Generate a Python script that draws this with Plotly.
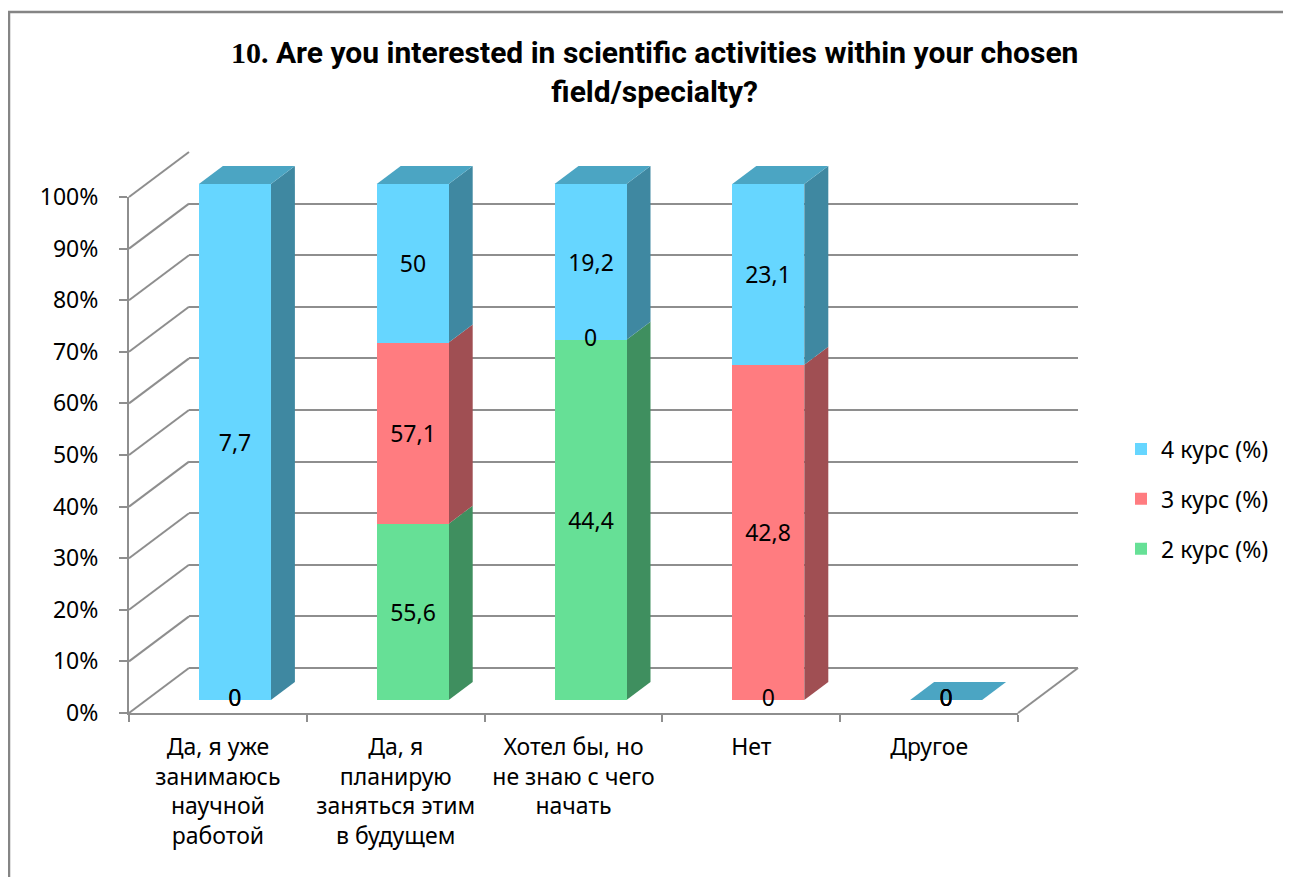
import plotly.graph_objects as go

# ---------------- data ----------------
categories = [
    "Да, я уже занимаюсь научной работой",
    "Да, я планирую заняться этим в будущем",
    "Хотел бы, но не знаю с чего начать",
    "Нет",
    "Другое",
]
category_labels = [
    "Да, я уже<br>занимаюсь<br>научной<br>работой",
    "Да, я<br>планирую<br>заняться этим<br>в будущем",
    "Хотел бы, но<br>не знаю с чего<br>начать",
    "Нет",
    "Другое",
]
series_names = ["2 курс (%)", "3 курс (%)", "4 курс (%)"]
kurs2 = [0, 55.6, 44.4, 0, 0]
kurs3 = [0, 57.1, 0, 42.8, 0]
kurs4 = [7.7, 50, 19.2, 23.1, 0]
y_ticks = list(range(0, 101, 10))
y_tick_labels = [f"{t}%" for t in y_ticks]
title_text = ('<b><span style="font-family:Liberation Serif">10.</span> Are you interested in scientific '
              'activities within your chosen<br>field/specialty?</b>')

# ---------------- styles ----------------
front_colors = ["#66E096", "#FF7C80", "#66D6FF"]
side_colors = ["#3F8F5F", "#A04F53", "#3F88A1"]
top_color = "#4BA5C3"
grid_color = "#8E8E8E"
FONT = "Noto Sans, Open Sans, sans-serif"
FS = 23

W, H = 1291, 877          # page size
OFF = 8                   # page body margin
FW, FH = W - OFF, H - OFF # figure size
FX0, FX1, FY0, FY100 = 129, 1018, 713, 197     # front plane (axis) in page px
DX_BACK, DY_BACK = 60, -45                      # back wall offset
DX_BAR, DY_BAR = 17, -13                        # bar plane offset
DEPTH_X, DEPTH_Y = 24, -18                      # bar depth
NCAT = len(categories)
CAT_W = (FX1 - FX0) / NCAT
PX_PER_PCT = (FY0 - FY100) / 100
BAR_W = 72 / CAT_W
X3_MAX = 4.8
Y3_MAX = 120


def pxx(x):
    return (x - OFF) / FW


def pxy(y):
    return 1 - (y - OFF) / FH


series = [kurs2, kurs3, kurs4]
totals = [sum(s[i] for s in series) for i in range(NCAT)]
pcts = [[(s[i] / totals[i] * 100 if totals[i] else 0) for i in range(NCAT)] for s in series]


def fmt(v):
    return f"{v:g}".replace(".", ",")


fig = go.Figure()

# back wall (xy) – invisible trace so subplot exists
fig.add_trace(go.Scatter(x=[0], y=[None], xaxis="x", yaxis="y", showlegend=False, hoverinfo="skip"))
# front axes (x2y2)
fig.add_trace(go.Scatter(x=categories, y=[None] * NCAT, xaxis="x2", yaxis="y2",
                         showlegend=False, hoverinfo="skip", mode="markers"))

# bars (x3y3)
for k, (name, vals) in enumerate(zip(series_names, series)):
    fig.add_trace(go.Bar(
        x=categories, y=vals, name=name, xaxis="x3", yaxis="y3",
        width=BAR_W, marker=dict(color=front_colors[k], line=dict(width=0)),
        text=[fmt(v) if v else "" for v in vals], textposition="inside",
        insidetextanchor="middle", constraintext="none",
        textfont=dict(family=FONT, size=FS, color="black"),
        legendgroup=name, legendrank=3 - k,
    ))

# zero labels
zx, zy = [], []
for k in range(3):
    for i in range(NCAT):
        if series[k][i] == 0:
            zx.append(categories[i])
            zy.append(sum(pcts[j][i] for j in range(k)))
fig.add_trace(go.Scatter(x=zx, y=zy, mode="text", text=["0"] * len(zx), xaxis="x3", yaxis="y3",
                         textfont=dict(family=FONT, size=FS, color="black"), cliponaxis=False,
                         showlegend=False, hoverinfo="skip"))

shapes = []
# 3D side and top faces
dxu = DEPTH_X / CAT_W
dyu = -DEPTH_Y / PX_PER_PCT
for i in range(NCAT):
    xr = i + BAR_W / 2
    xl = i - BAR_W / 2
    cum = 0
    for k in range(3):
        p = pcts[k][i]
        if p > 0:
            b, t = cum, cum + p
            shapes.append(dict(type="path", xref="x3", yref="y3", layer="between",
                               path=f"M {xr},{b} L {xr+dxu},{b+dyu} L {xr+dxu},{t+dyu} L {xr},{t} Z",
                               fillcolor=side_colors[k], line=dict(width=0)))
        cum += p
    shapes.append(dict(type="path", xref="x3", yref="y3", layer="between",
                       path=f"M {xl},{cum} L {xl+dxu},{cum+dyu} L {xr+dxu},{cum+dyu} L {xr},{cum} Z",
                       fillcolor=top_color, line=dict(width=0)))

# side wall diagonals
for t in y_ticks:
    shapes.append(dict(type="line", xref="paper", yref="paper", layer="below",
                       x0=pxx(FX0), y0=pxy(FY0 - t * PX_PER_PCT),
                       x1=pxx(FX0 + DX_BACK), y1=pxy(FY0 + DY_BACK - t * PX_PER_PCT),
                       line=dict(color=grid_color, width=2)))
# floor right diagonal
shapes.append(dict(type="line", xref="paper", yref="paper", layer="below",
                   x0=pxx(FX1), y0=pxy(FY0), x1=pxx(FX1 + DX_BACK), y1=pxy(FY0 + DY_BACK),
                   line=dict(color=grid_color, width=2)))
# chart border
shapes.append(dict(type="rect", xref="paper", yref="paper", layer="above",
                   x0=pxx(9), y0=pxy(12), x1=pxx(W + 10), y1=pxy(H + 10),
                   line=dict(color="#858585", width=2.5), fillcolor="rgba(0,0,0,0)"))

fig.update_layout(
    width=FW, height=FH,
    margin=dict(l=0, r=0, t=0, b=0, autoexpand=False),
    paper_bgcolor="white", plot_bgcolor="rgba(0,0,0,0)",
    font=dict(family=FONT, size=FS, color="black"),
    barmode="stack", barnorm="percent", bargap=0,
    shapes=shapes,
    annotations=[dict(text=title_text, x=pxx(654), xanchor="center", xref="paper",
                      y=pxy(72), yanchor="middle", yref="paper", showarrow=False,
                      font=dict(family="Roboto, Noto Sans", size=30, color="black"))],
    legend=dict(x=pxx(1121), xanchor="left", y=pxy(499), yanchor="middle",
                traceorder="grouped", tracegroupgap=17,
                font=dict(family=FONT, size=FS), bgcolor="rgba(0,0,0,0)"),
    # back wall
    xaxis=dict(domain=[pxx(FX0 + DX_BACK), pxx(FX1 + DX_BACK)], range=[0, 1], anchor="y",
               showgrid=False, zeroline=False, showticklabels=False, ticks="", showline=False),
    yaxis=dict(domain=[pxy(FY0 + DY_BACK), pxy(FY100 + DY_BACK)], range=[0, 100], anchor="x",
               tickvals=y_ticks, showgrid=True, gridcolor=grid_color, gridwidth=2,
               zeroline=True, zerolinecolor=grid_color, zerolinewidth=2,
               showticklabels=False, ticks="", showline=False),
    # front axes
    xaxis2=dict(domain=[pxx(FX0), pxx(FX1)], anchor="y2", type="category",
                categoryorder="array", categoryarray=categories, range=[-0.5, NCAT - 0.5],
                tickvals=categories, ticktext=category_labels, tickson="boundaries",
                ticks="outside", ticklen=7, tickwidth=2, tickcolor=grid_color,
                showline=True, linecolor=grid_color, linewidth=2, showgrid=False, zeroline=False,
                ticklabelstandoff=12, tickfont=dict(family=FONT, size=FS)),
    yaxis2=dict(domain=[pxy(FY0), pxy(FY100)], anchor="x2", range=[0, 100],
                tickvals=y_ticks, ticktext=y_tick_labels,
                ticks="outside", ticklen=8, tickwidth=2, tickcolor=grid_color,
                showline=True, linecolor=grid_color, linewidth=2, showgrid=False, zeroline=False,
                ticklabelstandoff=16, tickfont=dict(family=FONT, size=FS)),
    # bars
    xaxis3=dict(domain=[pxx(FX0 + DX_BAR), pxx(FX0 + DX_BAR + (X3_MAX + 0.5) * CAT_W)],
                anchor="y3", type="category", categoryorder="array", categoryarray=categories,
                range=[-0.5, X3_MAX], visible=False),
    yaxis3=dict(domain=[pxy(FY0 + DY_BAR), pxy(FY0 + DY_BAR - Y3_MAX * PX_PER_PCT)],
                anchor="x3", range=[0, Y3_MAX], visible=False),
)

fig.write_html("out.html")
